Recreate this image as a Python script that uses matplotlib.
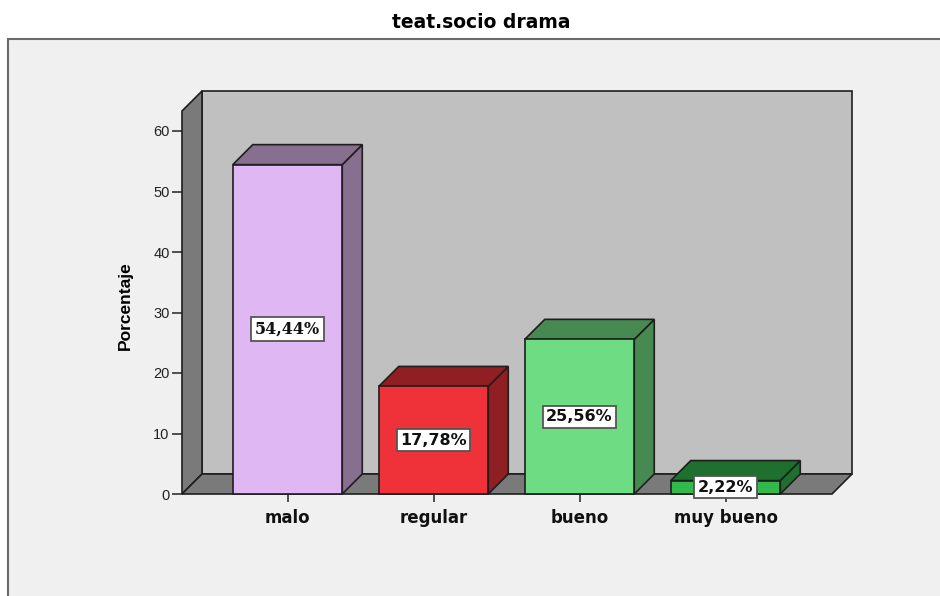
"""3D-style percentage bar chart for teat.socio drama."""

import matplotlib

matplotlib.use("Agg")
import matplotlib.pyplot as plt
from matplotlib.patches import Polygon, Rectangle

categories = ["malo", "regular", "bueno", "muy bueno"]
percentages = [54.44, 17.78, 25.56, 2.22]
y_ticks = [0, 10, 20, 30, 40, 50, 60]

front_colors = ["#dfb8f3", "#ef323a", "#6edc83", "#31b94b"]
shade_colors = ["#87708f", "#8f1f23", "#468a51", "#1f6f2e"]

# pixel layout of the plot box (figure is 940x596)
W, H = 940, 596
px_left, px_right_back = 182, 852
px_bottom, px_top_back = 494, 91
px_per_cat = 146.0
px_per_unit = 6.05
depth_px = 20

x_lo = -105.5 / px_per_cat
dx = depth_px / px_per_cat
dy = depth_px / px_per_unit
x_hi = x_lo + (px_right_back - px_left) / px_per_cat
y_hi = (px_bottom - px_top_back) / px_per_unit
wall_top = y_hi - dy
x_floor = x_hi - dx
bar_w = 109.5 / px_per_cat

fig = plt.figure(figsize=(W / 100, H / 100), dpi=100)
fig.patch.set_facecolor("white")

# light panel behind the chart, drawn in its own background axes
bg = fig.add_axes([0, 0, 1, 1], zorder=-5)
bg.set_xlim(0, W)
bg.set_ylim(H, 0)
bg.axis("off")
bg.add_patch(Rectangle((8, 39), W + 20, H, facecolor="#f0f0f0",
                       edgecolor="#6a6a6a", linewidth=1.5))

fig.text(481 / W, 1 - 23 / H, "teat.socio drama", ha="center", va="center",
         fontsize=13.5, fontweight="bold", family="DejaVu Sans")

ax = fig.add_axes([px_left / W, 1 - px_bottom / H,
                   (px_right_back - px_left) / W, (px_bottom - px_top_back) / H])
ax.set_xlim(x_lo, x_hi)
ax.set_ylim(0, y_hi)
ax.patch.set_visible(False)
for s in ax.spines.values():
    s.set_visible(False)

edge = "#1e1e1e"


def poly(pts, fc, z):
    ax.add_patch(Polygon(pts, closed=True, facecolor=fc, edgecolor=edge,
                         linewidth=1.2, zorder=z, clip_on=False))


# back wall, left wall, floor
poly([(x_lo + dx, dy), (x_hi, dy), (x_hi, y_hi), (x_lo + dx, y_hi)], "#c0c0c0", 1)
poly([(x_lo, 0), (x_lo + dx, dy), (x_lo + dx, y_hi), (x_lo, wall_top)], "#7a7a7a", 2)
poly([(x_lo, 0), (x_floor, 0), (x_hi, dy), (x_lo + dx, dy)], "#7a7a7a", 2)

for i, (v, fc, sc) in enumerate(zip(percentages, front_colors, shade_colors)):
    x0, x1 = i - bar_w / 2, i + bar_w / 2
    poly([(x1, 0), (x1 + dx, dy), (x1 + dx, v + dy), (x1, v)], sc, 3)
    poly([(x0, v), (x1, v), (x1 + dx, v + dy), (x0 + dx, v + dy)], sc, 3)
    poly([(x0, 0), (x1, 0), (x1, v), (x0, v)], fc, 4)
    fam = "DejaVu Serif" if i == 0 else "DejaVu Sans"
    ax.text(i, v / 2, f"{v:.2f}%".replace(".", ","), ha="center", va="center",
            fontsize=11.5, fontweight="bold", family=fam, color="#111111", zorder=6,
            bbox=dict(boxstyle="square,pad=0.22", facecolor="white",
                      edgecolor="#555555", linewidth=1.3))

ax.set_yticks(y_ticks)
ax.set_yticklabels([str(t) for t in y_ticks], fontsize=10.5, family="Liberation Sans",
                   color="#222222")
ax.tick_params(axis="y", length=7, width=1.2, color="#333333", pad=2)
ax.set_xticks(range(len(categories)))
ax.set_xticklabels(categories, fontsize=12, fontweight="bold", family="DejaVu Sans",
                   color="#111111")
ax.tick_params(axis="x", length=6, width=1.2, color="#333333", pad=5)

ax.set_ylabel("Porcentaje", fontsize=12.5, fontweight="bold", family="Liberation Sans")
ax.yaxis.set_label_coords((133 - px_left) / (px_right_back - px_left),
                          (px_bottom - 306) / (px_bottom - px_top_back))

fig.savefig("out.png", dpi=100)
